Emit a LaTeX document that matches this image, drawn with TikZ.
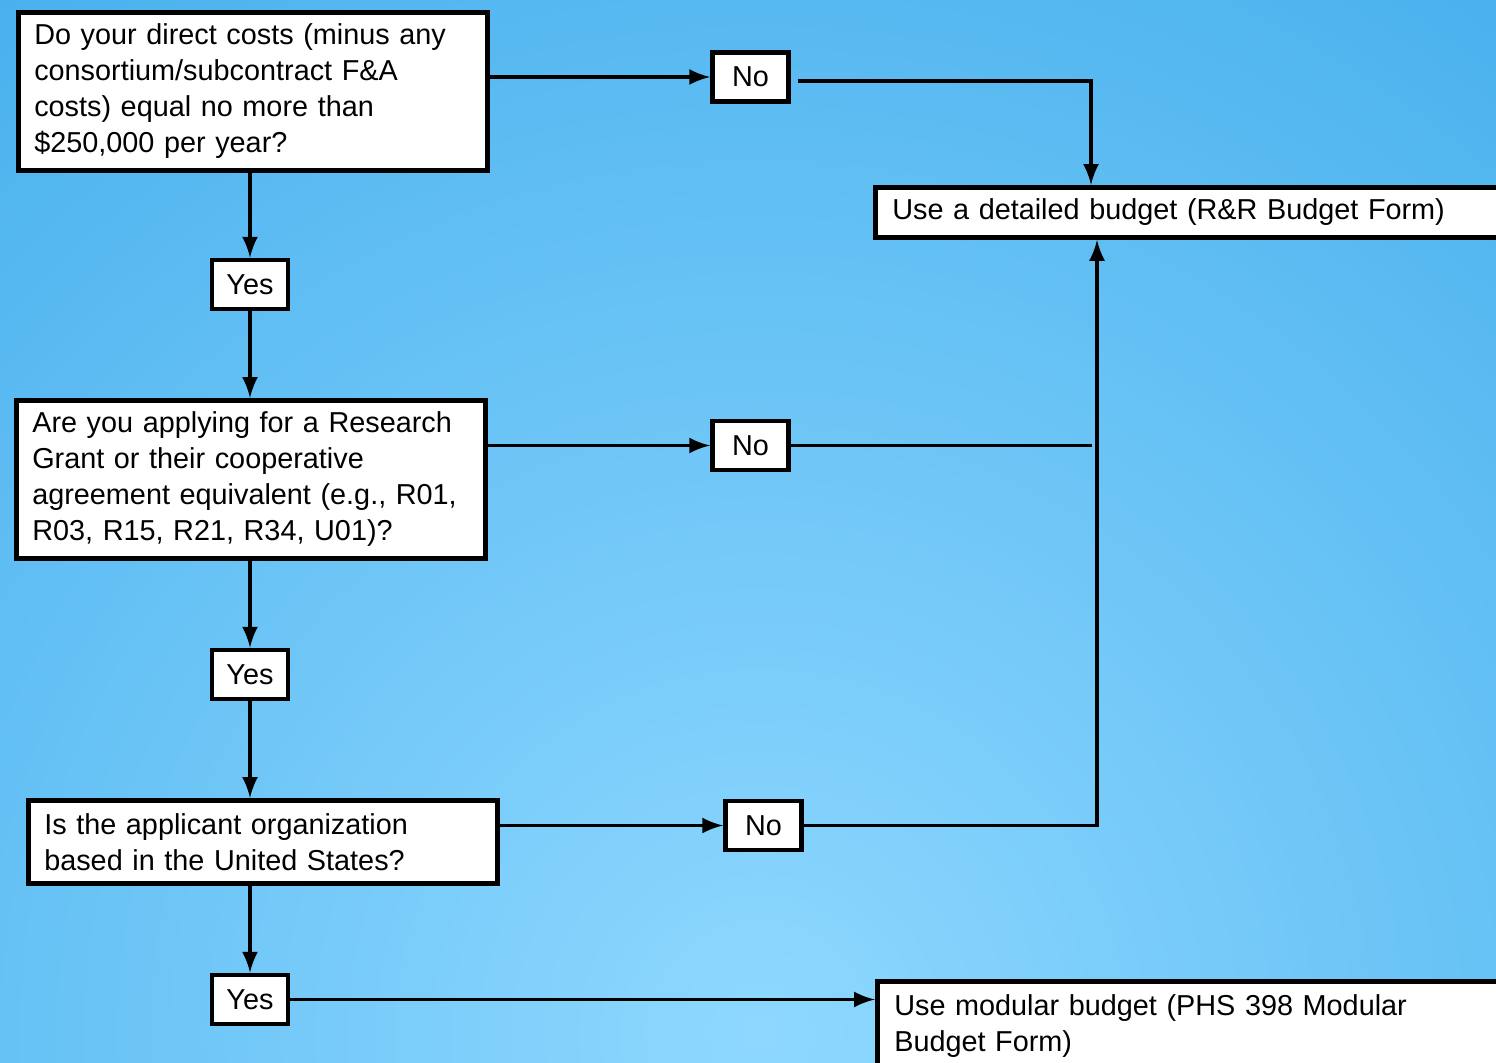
\documentclass[tikz,border=0pt]{standalone}
\usepackage{fontspec}
\setmainfont{Liberation Sans}

\definecolor{bgouter}{HTML}{36A6E8}
\definecolor{bginner}{HTML}{8ED8FF}

\begin{document}
\begin{tikzpicture}[>=latex]
        % Styles
        \tikzstyle{question}=[rectangle, draw, line width=1.3pt, fill=white, text width=4.37cm, inner xsep=1.6mm, align=left, anchor=north west, font=\fontsize{8.2pt}{10.25pt}\selectfont]
        \tikzstyle{answer}=[rectangle, draw, line width=1.3pt, fill=white, minimum width=7.6mm, minimum height=4.9mm, inner sep=0pt, font=\fontsize{8.2pt}{10.25pt}\selectfont]
        \tikzstyle{result}=[rectangle, draw, line width=1.3pt, fill=white, text width=6.6cm, inner xsep=1.7mm, align=left, anchor=north west, font=\fontsize{8.2pt}{10.25pt}\selectfont]
        \tikzstyle{link}=[line width=1.05pt]

        % Background
        \useasboundingbox (0,0) rectangle (14.96,10.63);
        \clip (0,0) rectangle (14.96,10.63);
        \shade[inner color=bginner, outer color=bgouter] (7.6,0.3) circle (16.5);

        % Nodes
        \node[question, minimum height=15.6mm] (costs) at (0.16,10.53) {Do your direct costs (minus any\\consortium/subcontract F\&A\\costs) equal no more than\\\$250,000 per year?};
        \node[answer] (no1) at (7.505,9.86) {No};
        \node[result, minimum height=4.9mm] (detailed) at (8.73,8.78) {Use a detailed budget (R\&R Budget Form)};
        \node[answer] (yes1) at (2.50,7.785) {Yes};
        \node[question, minimum height=15.7mm] (grant) at (0.14,6.65) {Are you applying for a Research\\Grant or their cooperative\\agreement equivalent (e.g., R01,\\R03, R15, R21, R34, U01)?};
        \node[answer] (no2) at (7.505,6.175) {No};
        \node[answer] (yes2) at (2.50,3.885) {Yes};
        \node[question, minimum height=8.3mm] (usorg) at (0.26,2.65) {Is the applicant organization\\based in the United States?};
        \node[answer] (no3) at (7.635,2.375) {No};
        \node[answer] (yes3) at (2.50,0.635) {Yes};
        \node[result, minimum height=9mm] (modular) at (8.75,0.84) {Use modular budget (PHS 398 Modular\\Budget Form)};
        \coordinate (join) at (10.92,0);

        % Arrows
        \draw[->, link] (no1.west -| costs.east) -- (no1.west);
        \draw[->, link] ([xshift=0.7mm, yshift=-0.4mm]no1.east) -| ([xshift=21.8mm]detailed.north west);
        \draw[->, link] (costs.south -| yes1) -- (yes1.north);
        \draw[->, link] (yes1.south) -- (grant.north -| yes1);
        \draw[->, link] (no2.west -| grant.east) -- (no2.west);
        \draw[link] (no2.east) -- (no2.east -| join);
        \draw[->, link] (grant.south -| yes2) -- (yes2.north);
        \draw[->, link] (yes2.south) -- (usorg.north -| yes2);
        \draw[->, link] (no3.west -| usorg.east) -- (no3.west);
        \draw[->, link] (no3.east) -| ([xshift=22.4mm]detailed.south west);
        \draw[->, link] (usorg.south -| yes3) -- (yes3.north);
        \draw[->, link] (yes3.east) -- (yes3.east -| modular.west);
    \end{tikzpicture}
\end{document}
